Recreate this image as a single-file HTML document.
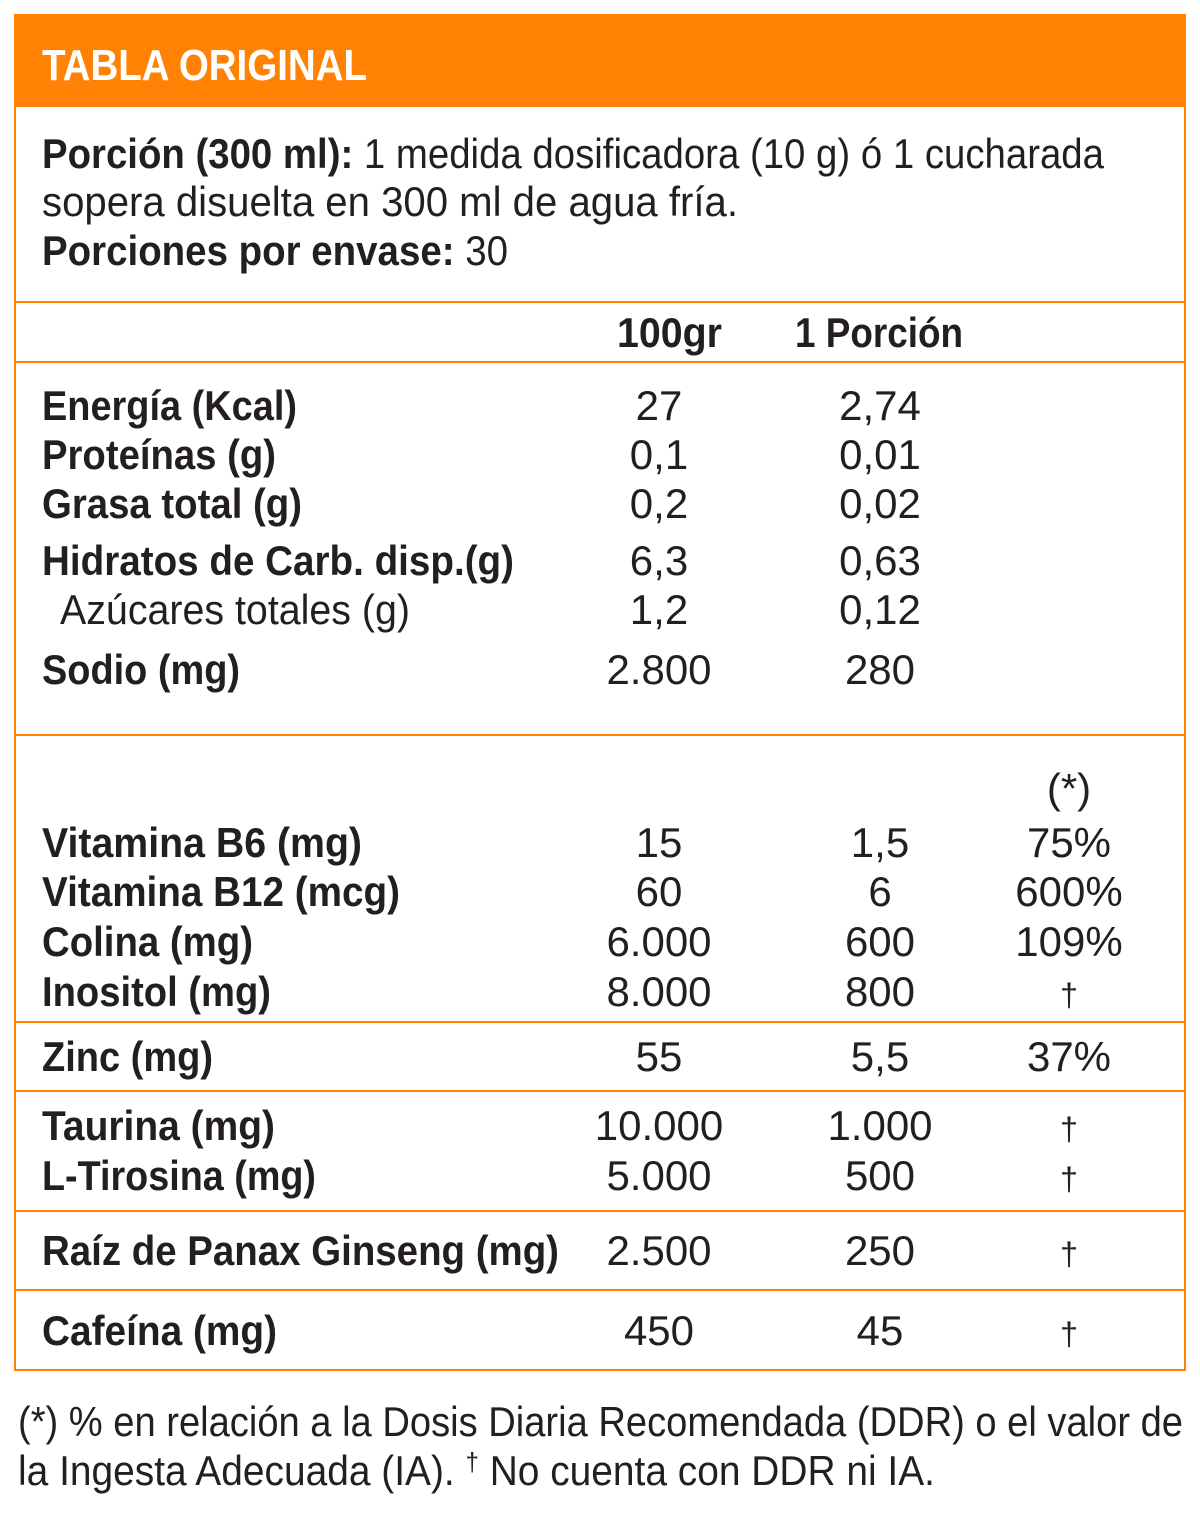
<!DOCTYPE html>
<html><head><meta charset="utf-8"><style>html,body{margin:0;padding:0;background:#fff}svg{display:block}</style></head>
<body>
<svg width="1200" height="1537" viewBox="0 0 1200 1537" xmlns="http://www.w3.org/2000/svg" font-family="Liberation Sans, sans-serif" fill="#231F20">
<rect x="15" y="15" width="1170" height="1355" fill="#fff" stroke="#FF8205" stroke-width="2"/>
<rect x="14" y="14" width="1172" height="93" fill="#FF8205"/>
<text x="42" y="80" font-size="44" font-weight="bold" fill="#fff" textLength="325" lengthAdjust="spacingAndGlyphs">TABLA ORIGINAL</text>
<g stroke="#FF8205" stroke-width="2">
<line x1="14" x2="1186" y1="302" y2="302"/>
<line x1="14" x2="1186" y1="362" y2="362"/>
<line x1="14" x2="1186" y1="735" y2="735"/>
<line x1="14" x2="1186" y1="1022" y2="1022"/>
<line x1="14" x2="1186" y1="1091" y2="1091"/>
<line x1="14" x2="1186" y1="1211" y2="1211"/>
<line x1="14" x2="1186" y1="1290" y2="1290"/>
</g>
<g font-size="42">
<text x="42" y="168" textLength="1062" lengthAdjust="spacingAndGlyphs"><tspan font-weight="bold">Porción (300 ml):</tspan> 1 medida dosificadora (10 g) ó 1 cucharada</text>
<text x="42" y="216" textLength="696" lengthAdjust="spacingAndGlyphs">sopera disuelta en 300 ml de agua fría.</text>
<text x="42" y="265" textLength="466" lengthAdjust="spacingAndGlyphs"><tspan font-weight="bold">Porciones por envase:</tspan> 30</text>
<g font-weight="bold">
<text x="617" y="347" textLength="105" lengthAdjust="spacingAndGlyphs">100gr</text>
<text x="795" y="347" textLength="168" lengthAdjust="spacingAndGlyphs">1 Porción</text>
<text x="42" y="420" textLength="255" lengthAdjust="spacingAndGlyphs">Energía (Kcal)</text>
<text x="42" y="469" textLength="234" lengthAdjust="spacingAndGlyphs">Proteínas (g)</text>
<text x="42" y="518" textLength="260" lengthAdjust="spacingAndGlyphs">Grasa total (g)</text>
<text x="42" y="575" textLength="472" lengthAdjust="spacingAndGlyphs">Hidratos de Carb. disp.(g)</text>
<text x="42" y="684" textLength="198" lengthAdjust="spacingAndGlyphs">Sodio (mg)</text>
<text x="42" y="857" textLength="320" lengthAdjust="spacingAndGlyphs">Vitamina B6 (mg)</text>
<text x="42" y="906" textLength="358" lengthAdjust="spacingAndGlyphs">Vitamina B12 (mcg)</text>
<text x="42" y="956" textLength="211" lengthAdjust="spacingAndGlyphs">Colina (mg)</text>
<text x="42" y="1006" textLength="229" lengthAdjust="spacingAndGlyphs">Inositol (mg)</text>
<text x="42" y="1071" textLength="171" lengthAdjust="spacingAndGlyphs">Zinc (mg)</text>
<text x="42" y="1140" textLength="233" lengthAdjust="spacingAndGlyphs">Taurina (mg)</text>
<text x="42" y="1190" textLength="274" lengthAdjust="spacingAndGlyphs">L-Tirosina (mg)</text>
<text x="42" y="1265" textLength="517" lengthAdjust="spacingAndGlyphs">Raíz de Panax Ginseng (mg)</text>
<text x="42" y="1345" textLength="235" lengthAdjust="spacingAndGlyphs">Cafeína (mg)</text>
</g>
<text x="60" y="624" textLength="350" lengthAdjust="spacingAndGlyphs">Azúcares totales (g)</text>
<g text-anchor="middle">
<text x="659" y="420">27</text><text x="880" y="420">2,74</text>
<text x="659" y="469">0,1</text><text x="880" y="469">0,01</text>
<text x="659" y="518">0,2</text><text x="880" y="518">0,02</text>
<text x="659" y="575">6,3</text><text x="880" y="575">0,63</text>
<text x="659" y="624">1,2</text><text x="880" y="624">0,12</text>
<text x="659" y="684">2.800</text><text x="880" y="684">280</text>
<text x="1069" y="803">(*)</text>
<text x="659" y="857">15</text><text x="880" y="857">1,5</text><text x="1069" y="857">75%</text>
<text x="659" y="906">60</text><text x="880" y="906">6</text><text x="1069" y="906">600%</text>
<text x="659" y="956">6.000</text><text x="880" y="956">600</text><text x="1069" y="956">109%</text>
<text x="659" y="1006">8.000</text><text x="880" y="1006">800</text><text x="1069" y="1006" font-size="32">†</text>
<text x="659" y="1071">55</text><text x="880" y="1071">5,5</text><text x="1069" y="1071">37%</text>
<text x="659" y="1140">10.000</text><text x="880" y="1140">1.000</text><text x="1069" y="1140" font-size="32">†</text>
<text x="659" y="1190">5.000</text><text x="880" y="1190">500</text><text x="1069" y="1190" font-size="32">†</text>
<text x="659" y="1265">2.500</text><text x="880" y="1265">250</text><text x="1069" y="1265" font-size="32">†</text>
<text x="659" y="1345">450</text><text x="880" y="1345">45</text><text x="1069" y="1345" font-size="32">†</text>
</g>
<text x="18" y="1436" textLength="1165" lengthAdjust="spacingAndGlyphs">(*) % en relación a la Dosis Diaria Recomendada (DDR) o el valor de</text>
<text x="18" y="1485" textLength="917" lengthAdjust="spacingAndGlyphs">la Ingesta Adecuada (IA). <tspan font-size="26" dy="-14">†</tspan><tspan dy="14"> No cuenta con DDR ni IA.</tspan></text>
</g>
</svg>
</body></html>
